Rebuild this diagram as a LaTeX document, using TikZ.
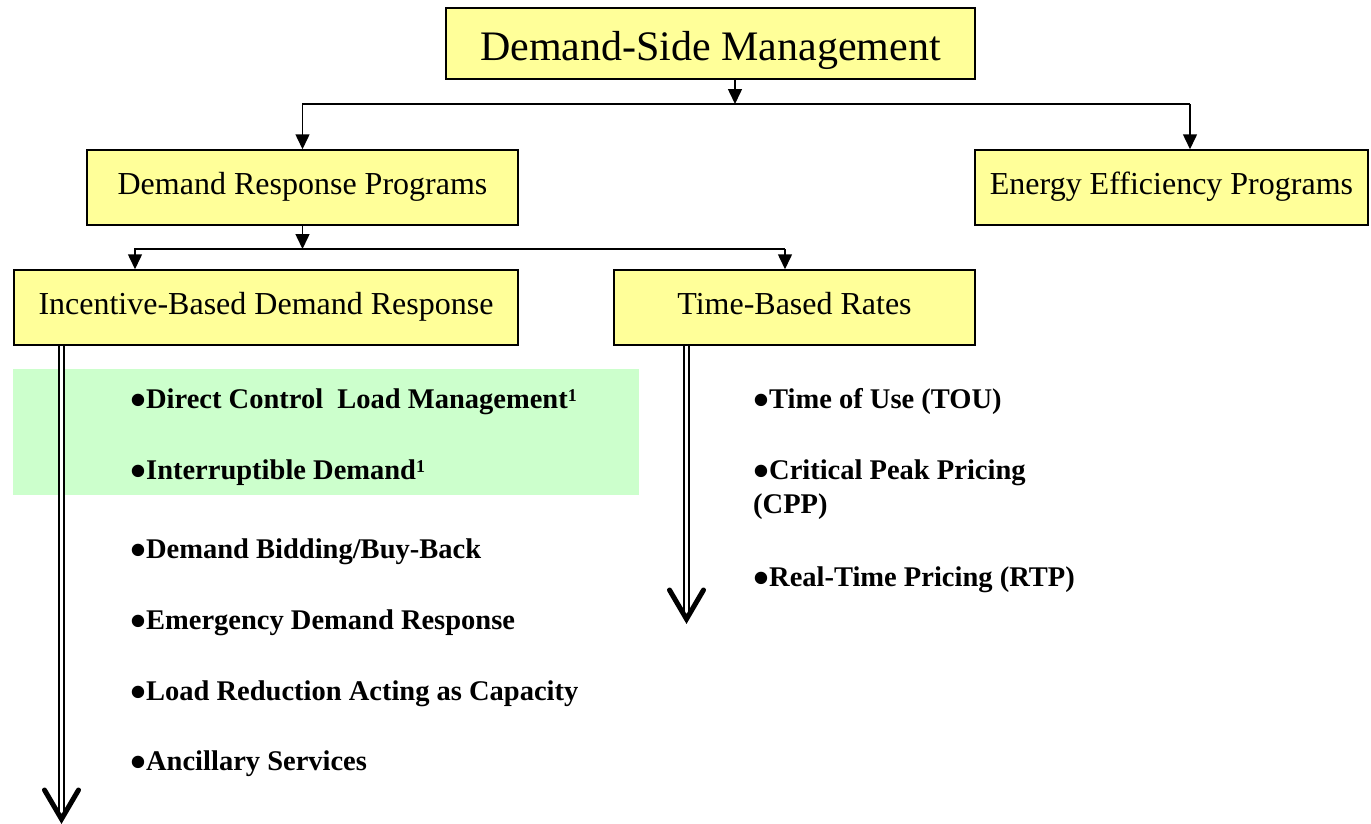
\documentclass[tikz,border=0pt]{standalone}
\usepackage{fontspec}
\setmainfont{Liberation Serif}
\usepackage{xcolor}
\usepackage{graphicx}
\usetikzlibrary{arrows.meta}
\definecolor{boxyellow}{HTML}{FFFF99}
\definecolor{lightgreen}{HTML}{CCFFCC}
\newcommand{\itemdot}{\smash{\raisebox{-7.5pt}{\scalebox{1.6}{•}}}}
\newcommand{\footone}{\raisebox{7pt}{\fontsize{18}{18}\selectfont 1}}
\tikzstyle{program} = [rectangle, draw=black, line width=1.5pt, fill=boxyellow, text centered, inner sep=0pt, text height=22pt, text depth=9pt, font=\fontsize{32}{38}\selectfont]
\tikzstyle{title} = [program, text height=33pt, text depth=0pt, font=\fontsize{42}{50}\selectfont]
\tikzstyle{item} = [anchor=base west, inner sep=0pt, font=\bfseries\fontsize{28.5}{34}\selectfont]
\tikzstyle{arrow} = [line width=1.5pt, -{Triangle[length=15pt, width=14pt]}]
\tikzstyle{dblline} = [draw=black, double=white, line width=1.5pt, double distance=3.5pt]
\tikzstyle{vhead} = [line width=5pt, line cap=round, line join=miter]

\begin{document}
\begin{tikzpicture}[x=1pt, y=-1pt]
        \useasboundingbox (0,0) rectangle (1371,823);
        \node (highlight) [fill=lightgreen, minimum width=626pt, minimum height=126pt, inner sep=0pt] at (326,432) {};

        \node (dsm) [title, minimum width=529pt, minimum height=71pt] at (710.5,43.5) {Demand-Side Management};
        \node (drp) [program, minimum width=431pt, minimum height=75pt] at (302.5,187.5) {Demand Response Programs};
        \node (eep) [program, minimum width=393pt, minimum height=75pt] at (1171.5,187.5) {Energy Efficiency Programs};
        \node (ibdr) [program, minimum width=504pt, minimum height=75pt] at (266,307.5) {Incentive-Based Demand Response};
        \node (tbr) [program, minimum width=361pt, minimum height=75pt] at (794.5,307.5) {Time-Based Rates};

        \node (dclm) [item] at (130,408) {\itemdot Direct Control\ \ Load Management\footone};
        \node (intd) [item] at (130,479) {\itemdot Interruptible Demand\footone};
        \node (dbbb) [item] at (130,558) {\itemdot Demand Bidding/Buy-Back};
        \node (emdr) [item] at (130,629) {\itemdot Emergency Demand Response};
        \node (lrac) [item] at (130,700) {\itemdot Load Reduction Acting as Capacity};
        \node (ancs) [item] at (130,770) {\itemdot Ancillary Services};

        \node (tou) [item] at (753,408) {\itemdot Time of Use (TOU)};
        \node (cpp) [item, align=left] at (753,513) {\itemdot Critical Peak Pricing\\(CPP)};
        \node (rtp) [item] at (753,586) {\itemdot Real-Time Pricing (RTP)};

        \coordinate (dsmbar) at (735,104);
        \coordinate (dsmleft) at (302.5,104);
        \coordinate (dsmright) at (1190,104);
        \coordinate (drpbar) at (302.5,249);
        \coordinate (drpleft) at (135,249);
        \coordinate (drpright) at (785,249);
        \coordinate (ibdrtip) at (61.5,819);
        \coordinate (tbrtip) at (686.5,619);

        \draw [arrow] (dsm.south -| dsmbar) -- (dsmbar);
        \draw [arrow] (dsmright) -- (dsmleft) -- (drp.north);
        \draw [arrow] (dsmright) -- (eep.north -| dsmright);
        \draw [arrow] (drp.south) -- (drpbar);
        \draw [arrow] (drpright) -- (drpleft) -- (ibdr.north -| drpleft);
        \draw [arrow] (drpright) -- (tbr.north -| drpright);

        \draw [dblline] (ibdr.south -| ibdrtip) -- ([yshift=4pt]ibdrtip);
        \draw [vhead] ([shift={(-17,-29)}]ibdrtip) -- (ibdrtip) -- ([shift={(17,-29)}]ibdrtip);
        \draw [dblline] (tbr.south -| tbrtip) -- ([yshift=4pt]tbrtip);
        \draw [vhead] ([shift={(-17,-29)}]tbrtip) -- (tbrtip) -- ([shift={(17,-29)}]tbrtip);
    \end{tikzpicture}
\end{document}
